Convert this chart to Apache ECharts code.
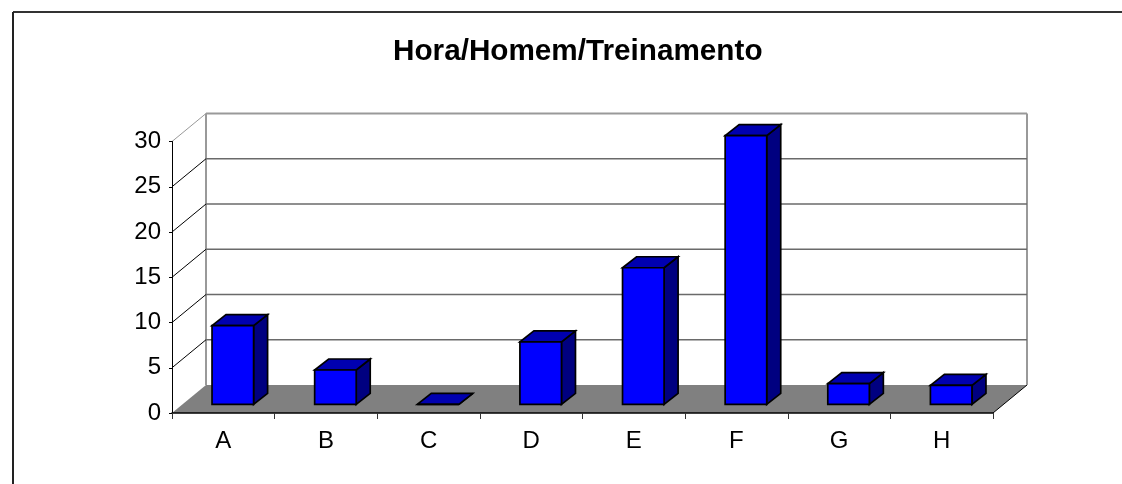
<!DOCTYPE html>
<html>
<head>
<meta charset="utf-8">
<style>
html,body{margin:0;padding:0;background:#fff}
#main{width:1122px;height:484px}
</style>
</head>
<body>
<div id="main"></div>
<script src="https://cdn.jsdelivr.net/npm/echarts@6/dist/echarts.min.js"></script>
<script>
var categories = ['A', 'B', 'C', 'D', 'E', 'F', 'G', 'H'];
var hours = [8.7, 3.8, 0, 6.9, 15.1, 29.7, 2.3, 2.1];
var yTicks = [0, 5, 10, 15, 20, 25, 30];

// 3d look: how far the back wall and the bars are pushed back
var WALL_DX = 34, WALL_DY = -28;
var BAR_OFF_X = 9.5, BAR_OFF_Y = -8.6, BAR_DX = 14, BAR_DY = -11;

function line(x1, y1, x2, y2, color, width) {
    return {
        type: 'line',
        shape: { x1: x1, y1: y1, x2: x2, y2: y2 },
        style: { stroke: color, lineWidth: width }
    };
}

function poly(points, fill) {
    return {
        type: 'polygon',
        shape: { points: points },
        style: { fill: fill, stroke: '#000', lineWidth: 1.7, lineJoin: 'miter' }
    };
}

// walls, floor and the grid lines, one item per y tick
function renderWall(params, api) {
    var tick = api.value(1);
    var p = api.coord([0, tick]);
    var left = params.coordSys.x;
    var right = left + params.coordSys.width;
    var y = p[1];
    var backY = y + WALL_DY;
    var kids = [];
    if (tick === 0) {
        kids.push({
            type: 'polygon',
            shape: { points: [[left, y], [right, y], [right + WALL_DX, backY], [left + WALL_DX, backY]] },
            style: { fill: '#808080' }
        });
        kids.push(line(right, y, right + WALL_DX, backY, '#000', 1));
        kids.push(line(left + WALL_DX, backY, left + WALL_DX, backY - params.coordSys.height, '#999', 2));
        kids.push(line(right + WALL_DX, backY, right + WALL_DX, backY - params.coordSys.height, '#999', 2));
    } else {
        var top = tick === yTicks[yTicks.length - 1];
        kids.push(line(left, y, left + WALL_DX, backY, top ? '#999' : '#000', 1));
        kids.push(line(left + WALL_DX, backY, right + WALL_DX, backY, top ? '#999' : '#6a6a6a', top ? 2 : 1.5));
    }
    return { type: 'group', children: kids };
}

function renderBar(params, api) {
    var i = api.value(0);
    var base = api.coord([i, 0]);
    var head = api.coord([i, api.value(1)]);
    var w = api.size([1, 0])[0] * 0.405;
    var x0 = base[0] - w / 2 + BAR_OFF_X;
    var x1 = x0 + w;
    var y0 = base[1] + BAR_OFF_Y;
    var y1 = head[1] + BAR_OFF_Y;
    return {
        type: 'group',
        children: [
            poly([[x1, y0], [x1 + BAR_DX, y0 + BAR_DY], [x1 + BAR_DX, y1 + BAR_DY], [x1, y1]], '#000080'),
            poly([[x0, y1], [x1, y1], [x1 + BAR_DX, y1 + BAR_DY], [x0 + BAR_DX, y1 + BAR_DY]], '#0000b0'),
            poly([[x0, y0], [x1, y0], [x1, y1], [x0, y1]], '#0000ff')
        ]
    };
}

var myChart = echarts.init(document.getElementById('main'));
var option = {
    animation: false,
    backgroundColor: '#fff',
    textStyle: { fontFamily: 'Liberation Sans' },
    title: {
        text: 'Hora/Homem/Treinamento',
        left: 393,
        top: 37,
        textStyle: { fontFamily: 'Liberation Sans', fontSize: 29.7, fontWeight: 'bold', color: '#000' },
        padding: 0
    },
    grid: { left: 172, right: 129, top: 141.5, bottom: 71 },
    xAxis: {
        type: 'category',
        data: categories,
        z: 5,
        axisLine: { lineStyle: { color: '#000', width: 1.5 } },
        axisTick: { show: true, length: 6, alignWithLabel: false, lineStyle: { color: '#333' } },
        axisLabel: { color: '#000', fontSize: 24, margin: 16, interval: 0 },
        splitLine: { show: false }
    },
    yAxis: {
        type: 'value',
        min: 0,
        max: 30,
        interval: 5,
        z: 5,
        axisLine: { show: true, lineStyle: { color: '#000', width: 1 } },
        axisTick: { show: true, length: 3, lineStyle: { color: '#000' } },
        axisLabel: { color: '#000', fontSize: 24, margin: 11 },
        splitLine: { show: false }
    },
    graphic: [
        { type: 'line', shape: { x1: 13, y1: 12, x2: 1122, y2: 12 }, style: { stroke: '#333', lineWidth: 2 } },
        { type: 'line', shape: { x1: 13, y1: 12, x2: 13, y2: 484 }, style: { stroke: '#222', lineWidth: 2 } }
    ],
    series: [
        {
            type: 'custom',
            renderItem: renderWall,
            clip: false,
            silent: true,
            encode: { x: 0, y: 1 },
            data: yTicks.map(function (t) { return [0, t]; })
        },
        {
            type: 'custom',
            renderItem: renderBar,
            clip: false,
            encode: { x: 0, y: 1 },
            data: hours.map(function (v, i) { return [i, v]; })
        }
    ]
};
myChart.setOption(option);
</script>
</body>
</html>
